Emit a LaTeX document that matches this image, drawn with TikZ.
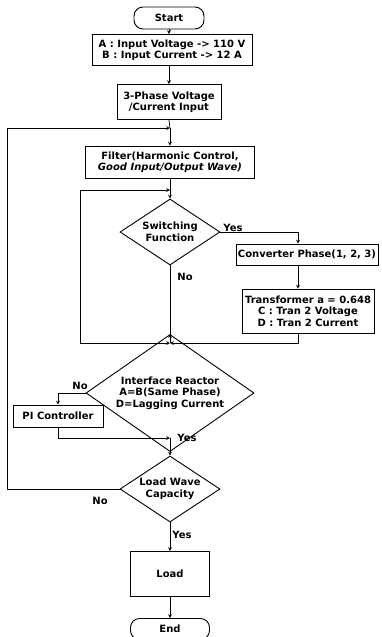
\documentclass[tikz,border=0pt]{standalone}
\usepackage{fontspec}
\setmainfont{DejaVu Sans}
\usetikzlibrary{shapes.geometric}

\tikzset{
  box/.style={draw, line width=0.9pt, align=center, inner sep=1pt},
  term/.style={box, rounded corners=9pt},
  decision/.style={diamond, draw, line width=0.9pt, align=center, inner sep=-6pt},
  lbl/.style={inner sep=0pt},
  conn/.style={line width=0.7pt},
  arr/.style={conn, ->, >=stealth}
}

\begin{document}
\begin{tikzpicture}[x=1pt, y=-1pt, font=\fontsize{10}{11.5}\selectfont\bfseries]
    \useasboundingbox (0,0) rectangle (381,637);
    % boxes
    \node [term, minimum width=70pt, minimum height=22pt] (start) at (169,18) {Start};
    \node [box, minimum width=160pt, minimum height=31pt] (ab) at (172,50)
        {A : Input Voltage -> 110 V\\B : Input Current -> 12 A};
    \node [box, minimum width=104pt, minimum height=35pt] (phase) at (169,102)
        {3-Phase Voltage\\/Current Input};
    \node [box, minimum width=169pt, minimum height=32pt] (filter) at (170,162)
        {Filter(Harmonic Control,\\\itshape Good Input/Output Wave)};
    \node [decision, minimum width=100pt, minimum height=66pt] (switch) at (170,232)
        {Switching\\Function};
    \node [box, minimum width=142pt, minimum height=21pt] (conv) at (307,254.5)
        {Converter Phase(1, 2, 3)};
    \node [box, minimum width=132pt, minimum height=44pt] (trans) at (308,311)
        {Transformer a = 0.648\\C : Tran 2 Voltage\\D : Tran 2 Current};
    \node [decision, minimum width=168pt, minimum height=76pt] (reactor) at (170,393)
        {Interface Reactor\\A=B(Same Phase)\\D=Lagging Current};
    \node [box, minimum width=90pt, minimum height=22pt] (pi) at (58,416) {PI Controller};
    \node [decision, minimum width=100pt, minimum height=66pt] (wave) at (170,489)
        {Load Wave\\Capacity};
    \node [box, minimum width=79pt, minimum height=45pt] (load) at (170,574) {Load};
    \node [term, minimum width=79pt, minimum height=21pt] (end) at (170,629) {End};

    % junctions
    \coordinate (fbk) at (170,128);
    \coordinate (fbkl) at (7,128);
    \coordinate (lp) at (170,190);
    \coordinate (lpl) at (80,343);
    \coordinate (jn) at (170,343);
    \coordinate (trb) at (298,343);
    \coordinate (mg) at (170,438);

    % labels
    \node [lbl] (yes1) at (233,228) {Yes};
    \node [lbl] (no1) at (185,277) {No};
    \node [lbl] (no2) at (80,386) {No};
    \node [lbl] (yes2) at (187,438) {Yes};
    \node [lbl] (no3) at (100,501) {No};
    \node [lbl] (yes3) at (182,535) {Yes};

    % connectors
    \draw [arr] (start) -- (start |- ab.north);
    \draw [arr] (ab.south -| phase) -- (phase.north);
    \draw [conn] (phase.south) -- (fbk);
    \draw [arr] (fbk) -- (filter.north);
    \draw [conn] (filter.south) -- (lp);
    \draw [arr] (lp) -- (switch.north);
    \draw [arr] (switch.east) -| (conv.north -| trb);
    \draw [arr] (conv.south -| trb) -- (trans.north -| trb);
    \draw [arr] (trans.south -| trb) -- (trb) -- (jn);
    \draw [conn] (switch.south) -- (jn);
    \draw [arr] (lpl) -- (jn);
    \draw [arr] (lpl) |- (lp);
    \draw [arr] (jn) -- (reactor.north);
    \draw [arr] (reactor.west) -| (pi.north);
    \draw [arr] (pi.south) |- (mg);
    \draw [conn] (reactor.south) -- (mg);
    \draw [arr] (mg) -- (wave.north);
    \draw [arr] (wave.west) -| (fbkl) -- (fbk);
    \draw [arr] (wave.south) -- (load.north);
    \draw [arr] (load.south) -- (end.north);
\end{tikzpicture}
\end{document}
